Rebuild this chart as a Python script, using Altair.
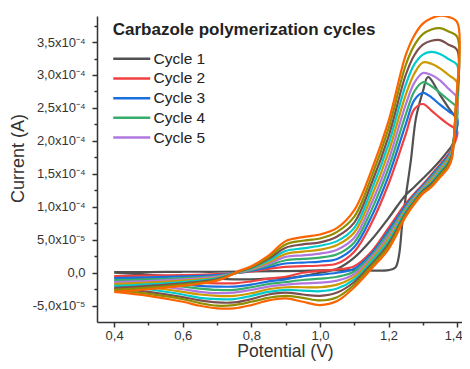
import altair as alt
import pandas as pd

# ---------------- data (current in units of 1e-5 A) ----------------
CYCLES = ["Cycle 1", "Cycle 2", "Cycle 3", "Cycle 4", "Cycle 5",
          "Cycle 6", "Cycle 7", "Cycle 8", "Cycle 9", "Cycle 10"]
COLORS = ["#515151", "#F14040", "#1A6FDF", "#37AD6B", "#B177DE",
          "#CC9900", "#00CBCC", "#7D4E4E", "#8E8E00", "#FB6501"]
LEGEND_SHOWN = ["Cycle 1", "Cycle 2", "Cycle 3", "Cycle 4", "Cycle 5"]

# Cycle 1 (nucleation loop)
C1_FWD_V = [0.40, 0.50, 0.60, 0.70, 0.80, 0.90, 1.00, 1.10, 1.20, 1.22, 1.23,
            1.24, 1.25, 1.265, 1.28, 1.30, 1.315, 1.35, 1.375, 1.40]
C1_FWD_I = [0.1, 0.1, 0.15, 0.15, 0.2, 0.25, 0.35, 0.4, 0.4, 0.8, 2.5,
            7.5, 11.5, 17.0, 23.5, 27.5, 29.7, 27.0, 25.0, 23.0]
C1_REV_V = [1.395, 1.385, 1.375, 1.35, 1.325, 1.30, 1.275, 1.25, 1.20, 1.15, 1.10,
            1.05, 1.00, 0.95, 0.90, 0.85, 0.80, 0.75, 0.70, 0.60, 0.50, 0.40]
C1_REV_I = [21.0, 19.3, 18.6, 17.0, 15.6, 14.3, 13.0, 11.8, 8.3, 5.0, 2.3,
            0.6, 0.0, -0.5, -0.8, -0.9, -1.0, -1.0, -0.9, -0.6, -0.3, 0.0]

# Cycles 2-10
FWD_V = [0.40, 0.50, 0.60, 0.70, 0.77, 0.80, 0.85, 0.90, 0.95, 1.00, 1.05,
         1.10, 1.15, 1.20, 1.25, 1.275, 1.30, 1.325, 1.35, 1.375, 1.40]
FWD_I = {
    "Cycle 2":  [-0.5, -0.45, -0.35, -0.2, 0.0, 0.2, 0.6, 0.9, 1.0, 1.1, 1.4, 3.2, 7.5, 13.5, 21.0, 24.8, 25.6, 24.6, 23.5, 22.5, 21.5],
    "Cycle 3":  [-0.8, -0.7, -0.55, -0.35, 0.05, 0.3, 0.85, 1.4, 1.55, 1.7, 2.1, 3.9, 8.5, 14.7, 22.5, 26.2, 27.3, 26.6, 25.5, 24.5, 23.5],
    "Cycle 4":  [-1.1, -1.0, -0.8, -0.5, 0.1, 0.4, 1.1, 1.9, 2.1, 2.3, 2.8, 4.6, 9.5, 15.9, 24.0, 27.5, 28.9, 28.3, 27.3, 26.2, 25.0],
    "Cycle 5":  [-1.4, -1.25, -1.0, -0.6, 0.15, 0.5, 1.35, 2.4, 2.65, 2.9, 3.5, 5.3, 10.5, 17.1, 25.5, 28.8, 30.3, 30.0, 29.2, 27.9, 26.5],
    "Cycle 6":  [-1.7, -1.5, -1.2, -0.75, 0.2, 0.6, 1.6, 2.85, 3.2, 3.5, 4.2, 6.1, 11.5, 18.3, 27.0, 30.2, 31.9, 31.7, 31.0, 30.0, 28.9],
    "Cycle 7":  [-2.0, -1.75, -1.4, -0.85, 0.25, 0.7, 1.85, 3.3, 3.7, 4.1, 4.8, 6.8, 12.5, 19.5, 28.5, 31.6, 33.1, 33.5, 33.2, 32.4, 31.5],
    "Cycle 8":  [-2.3, -2.0, -1.6, -0.95, 0.3, 0.8, 2.1, 3.8, 4.3, 4.6, 5.5, 7.6, 13.5, 20.7, 30.0, 33.0, 34.6, 35.2, 35.3, 34.6, 33.8],
    "Cycle 9":  [-2.6, -2.25, -1.8, -1.1, 0.35, 0.9, 2.35, 4.3, 4.85, 5.2, 6.2, 8.5, 14.5, 21.9, 31.5, 34.5, 36.2, 36.9, 37.1, 36.6, 35.8],
    "Cycle 10": [-2.9, -2.5, -2.0, -1.2, 0.4, 1.0, 2.6, 4.8, 5.4, 5.8, 6.8, 9.5, 15.5, 23.0, 33.0, 36.0, 37.8, 38.6, 39.0, 38.8, 38.0],
}
REV_V = [1.395, 1.385, 1.375, 1.35, 1.325, 1.30, 1.275, 1.25, 1.20, 1.15, 1.10,
         1.05, 1.00, 0.95, 0.90, 0.85, 0.80, 0.75, 0.70, 0.65, 0.60, 0.50, 0.40]
REV_I = {
    "Cycle 2":  [20.0, 18.8, 18.0, 16.4, 14.9, 13.4, 12.0, 10.5, 6.8, 3.2, 1.0, 0.5, 0.3, 0.0, -0.6, -0.9, -1.3, -1.6, -1.6, -1.5, -1.3, -0.9, -0.5],
    "Cycle 3":  [21.0, 18.8, 17.8, 16.2, 14.7, 13.2, 11.8, 10.2, 6.4, 2.9, 0.6, 0.0, -0.3, -0.5, -1.0, -1.3, -1.8, -2.1, -2.1, -2.0, -1.7, -1.2, -0.8],
    "Cycle 4":  [22.0, 18.7, 17.6, 16.0, 14.5, 13.0, 11.6, 9.9, 6.0, 2.6, 0.2, -0.6, -0.9, -1.1, -1.4, -1.7, -2.2, -2.6, -2.6, -2.4, -2.1, -1.5, -1.1],
    "Cycle 5":  [22.5, 18.6, 17.4, 15.7, 14.2, 12.9, 11.4, 9.7, 5.6, 2.3, -0.2, -1.2, -1.5, -1.6, -1.8, -2.1, -2.6, -3.0, -3.1, -2.9, -2.5, -1.8, -1.4],
    "Cycle 6":  [23.0, 18.5, 17.2, 15.5, 14.0, 12.7, 11.2, 9.5, 5.2, 2.0, -0.6, -1.8, -2.2, -2.2, -2.2, -2.5, -3.1, -3.5, -3.5, -3.3, -2.9, -2.2, -1.7],
    "Cycle 7":  [23.5, 18.3, 16.9, 15.3, 13.7, 12.6, 11.0, 9.3, 4.8, 1.7, -1.0, -2.4, -2.8, -2.7, -2.6, -2.9, -3.5, -4.0, -4.0, -3.8, -3.3, -2.5, -2.0],
    "Cycle 8":  [24.0, 18.0, 16.6, 15.0, 13.5, 12.4, 10.8, 9.0, 4.4, 1.3, -1.4, -3.0, -3.5, -3.3, -3.0, -3.3, -4.0, -4.5, -4.5, -4.2, -3.7, -2.9, -2.3],
    "Cycle 9":  [24.0, 17.7, 16.3, 14.8, 13.2, 12.2, 10.6, 8.8, 4.0, 1.0, -1.8, -3.7, -4.2, -3.8, -3.5, -3.8, -4.4, -4.9, -5.0, -4.6, -4.0, -3.2, -2.6],
    "Cycle 10": [24.5, 17.4, 16.0, 14.5, 13.0, 12.0, 10.4, 8.5, 3.6, 0.6, -2.2, -4.3, -4.9, -4.4, -3.9, -4.2, -4.9, -5.4, -5.4, -5.0, -4.4, -3.5, -2.9],
}

X_TICKS = [0.4, 0.5, 0.6, 0.7, 0.8, 0.9, 1.0, 1.1, 1.2, 1.3, 1.4]
Y_TICKS = [-5, 0, 5, 10, 15, 20, 25, 30, 35]
Y_LABELS = ["-5,0x10⁻⁵", "0,0", "5,0x10⁻⁵", "1,0x10⁻⁴", "1,5x10⁻⁴",
            "2,0x10⁻⁴", "2,5x10⁻⁴", "3,0x10⁻⁴", "3,5x10⁻⁴"]
Y_ALL_TICKS = [-5, -2.5, 0, 2.5, 5, 7.5, 10, 12.5, 15, 17.5, 20, 22.5,
               25, 27.5, 30, 32.5, 35, 37.5]

# ---------------- build table ----------------
rows = []
def add(cycle, vs, cs, start):
    for k, (v, c) in enumerate(zip(vs, cs)):
        rows.append({"cycle": cycle, "V": v, "I": c, "idx": start + k})

add("Cycle 1", C1_FWD_V, C1_FWD_I, 0)
add("Cycle 1", C1_REV_V, C1_REV_I, len(C1_FWD_V))
for cyc in CYCLES[1:]:
    add(cyc, FWD_V, FWD_I[cyc], 0)
    add(cyc, REV_V, REV_I[cyc], len(FWD_V))
df = pd.DataFrame(rows)

y_label_expr = " : ".join(
    f"datum.value == {t} ? '{l}'" for t, l in zip(Y_TICKS, Y_LABELS)) + " : ''"
x_label_expr = ("abs(round(datum.value*10)) % 2 == 0 ? "
                "replace(format(datum.value, '.1f'), '.', ',') : ''")

FONT = "Liberation Sans"
AX = "#333333"

chart = alt.Chart(df).mark_line(strokeWidth=2.2, clip=True, strokeJoin="round",
                                interpolate="catmull-rom").encode(
    x=alt.X("V:Q",
            scale=alt.Scale(domain=[0.35, 1.4141], nice=False, zero=False),
            axis=alt.Axis(title="Potential (V)", values=X_TICKS, labelExpr=x_label_expr,
                          tickSize={"condition": {"test": "abs(round(datum.value*10)) % 2 == 0", "value": 5}, "value": 3},
                          labelOffset={"condition": {"test": "datum.value > 1.35", "value": -4}, "value": 0},
                          labelPadding=2, labelFlush=False, labelOverlap=False,
                          titleX=188, titleY=29.5, titleBaseline="middle", titleFontSize=17.5)),
    y=alt.Y("I:Q",
            scale=alt.Scale(domain=[-7.47, 38.95], nice=False, zero=False),
            axis=alt.Axis(title="Current (A)", values=Y_ALL_TICKS, labelExpr=y_label_expr,
                          tickSize={"condition": {"test": "datum.value % 5 == 0", "value": 5}, "value": 3},
                          labelPadding=7, labelOverlap=False,
                          titleX=-78.5, titleY=142, titleBaseline="middle")),
    color=alt.Color("cycle:N",
                    scale=alt.Scale(domain=CYCLES, range=COLORS),
                    legend=alt.Legend(values=LEGEND_SHOWN, orient="none", legendX=27, legendY=35,
                                      title=None, padding=0, symbolType="M-3,0H3",
                                      symbolSize=152, symbolStrokeWidth=2.5,
                                      labelFontSize=15.5, labelFont=FONT, labelColor="#222222",
                                      labelOffset=14, rowPadding=2.7)),
    order=alt.Order("idx:Q"),
).properties(
    width=365, height=306,
    title=alt.TitleParams("Carbazole polymerization cycles", anchor="start", frame="group",
                          offset=-1, dx=15.7, dy=30, baseline="middle",
                          fontSize=17, fontWeight="bold", font=FONT, color="#222222"),
    autosize=alt.AutoSizeParams(type="none"),
    padding={"left": 89, "top": 8, "right": 0, "bottom": 39},
).configure_view(stroke=None).configure_axis(
    grid=False, domainColor=AX, domainWidth=1.5, tickColor=AX, tickWidth=1.5,
    labelFont=FONT, labelFontSize=13, labelColor=AX,
    titleFont=FONT, titleFontSize=18, titleFontWeight="normal", titleColor=AX,
)

chart.save("out.html", embed_options={"renderer": "svg", "actions": False})
